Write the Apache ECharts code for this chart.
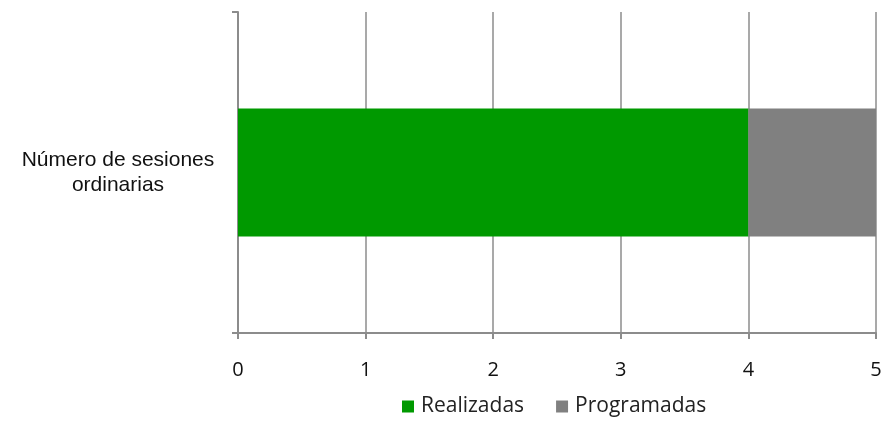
<!DOCTYPE html>
<html>
<head>
<meta charset="utf-8">
<script src="https://cdn.jsdelivr.net/npm/echarts@6/dist/echarts.min.js"></script>
<style>html,body{margin:0;padding:0;background:#fff}#c{width:888px;height:422px}</style>
</head>
<body>
<div id="c"></div>
<script>
var categories = ['Número de sesiones\nordinarias'];
var realizadas = [4];
var programadas = [1];
var seriesNames = ['Realizadas', 'Programadas'];
var xTicks = { min: 0, max: 5, interval: 1 };

var chart = echarts.init(document.getElementById('c'));
chart.setOption({
  animation: false,
  backgroundColor: '#ffffff',
  grid: { left: 238, right: 12, top: 12, bottom: 89 },
  legend: {
    left: 397, top: 391,
    itemWidth: 12, itemHeight: 12, itemGap: 32,
    icon: 'rect',
    textStyle: { fontFamily: 'Open Sans', fontSize: 21, color: '#222', padding: [0, 0, 0, 2] },
    data: seriesNames
  },
  xAxis: {
    type: 'value', min: xTicks.min, max: xTicks.max, interval: xTicks.interval,
    axisLine: { show: true, lineStyle: { color: '#8c8c8c', width: 2 } },
    axisTick: { show: true, length: 6, lineStyle: { color: '#8c8c8c', width: 2 } },
    splitLine: { show: true, lineStyle: { color: '#8c8c8c', width: 1.5 } },
    axisLabel: { fontFamily: 'Open Sans', fontSize: 20, color: '#111', margin: 27 }
  },
  yAxis: {
    type: 'category', data: categories,
    axisLine: { show: true, lineStyle: { color: '#8c8c8c', width: 2 } },
    axisTick: { show: true, length: 6, lineStyle: { color: '#8c8c8c', width: 2 } },
    axisLabel: { fontFamily: 'Liberation Sans', fontSize: 21, color: '#111', margin: 120,
      align: 'center', lineHeight: 25, padding: [17, 0, 0, 0] }
  },
  series: [
    { name: seriesNames[0], type: 'bar', stack: 'a', data: realizadas, barWidth: 128,
      itemStyle: { color: '#009900' } },
    { name: seriesNames[1], type: 'bar', stack: 'a', data: programadas, barWidth: 128,
      itemStyle: { color: '#808080' } }
  ]
});
</script>
</body>
</html>
